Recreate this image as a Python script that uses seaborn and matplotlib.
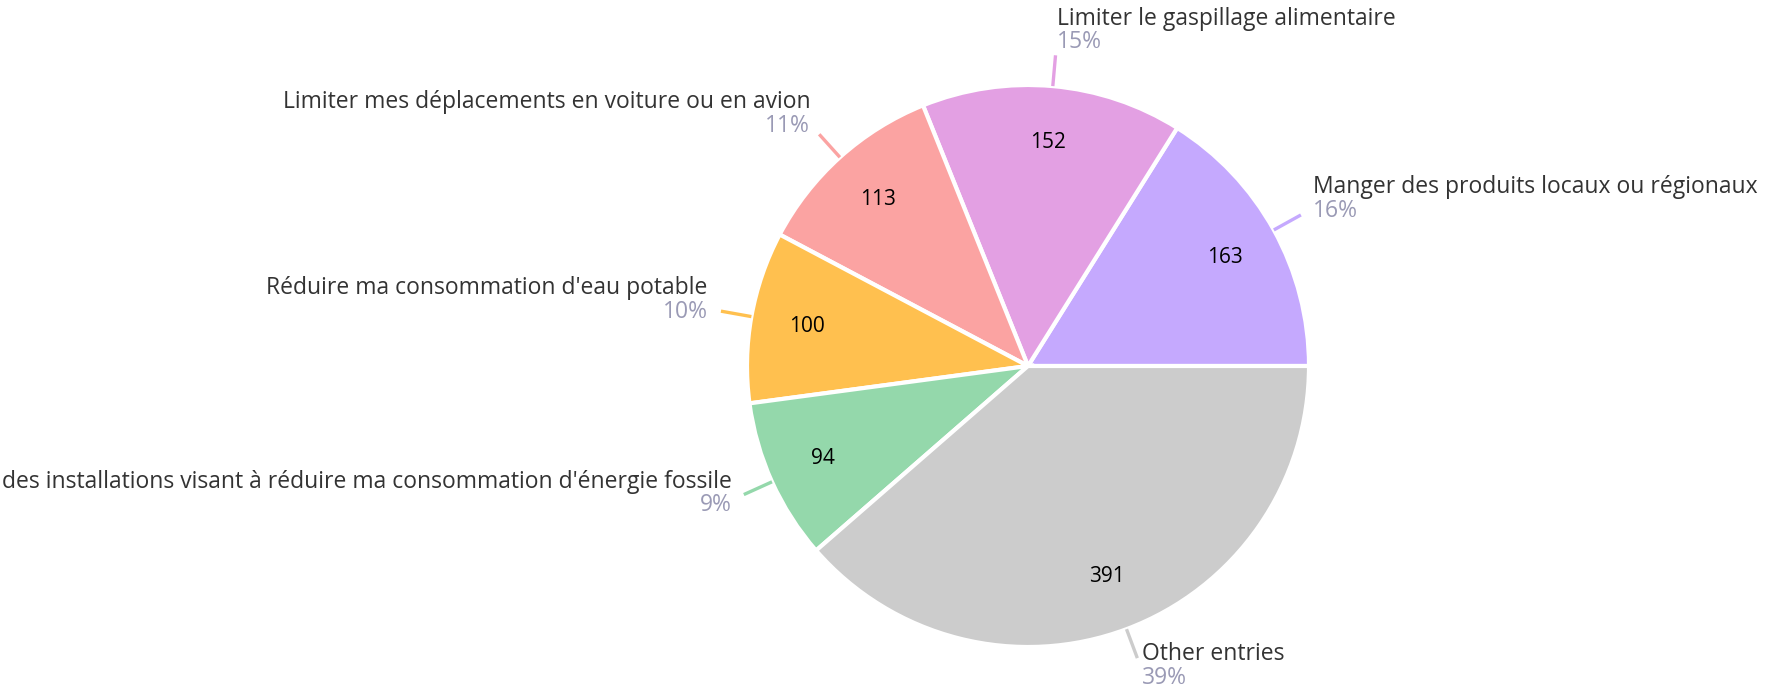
import numpy as np
import seaborn as sns
from matplotlib import pyplot as plt

# data
labels = ["Manger des produits locaux ou régionaux",
          "Limiter le gaspillage alimentaire",
          "Limiter mes déplacements en voiture ou en avion",
          "Réduire ma consommation d'eau potable",
          "des installations visant à réduire ma consommation d'énergie fossile",
          "Other entries"]
counts = [163, 152, 113, 100, 94, 391]
percents = ["16%", "15%", "11%", "10%", "9%", "39%"]
colors = ["#c5a9fe", "#e3a0e3", "#fba3a2", "#ffc04f", "#94d8ab", "#cccccc"]

sns.set_theme(style="white")
plt.rcParams['font.family'] = ['Open Sans', 'DejaVu Sans']

fig = plt.figure(figsize=(17.68, 6.95), dpi=100)
r_px = 281
ax = fig.add_axes([(1028 - r_px) / 1768, (695 - 366 - r_px) / 695, 2 * r_px / 1768, 2 * r_px / 695])

wedges, _ = ax.pie(counts, colors=colors, startangle=0, counterclock=True, radius=1,
                   wedgeprops=dict(edgecolor="white", linewidth=3))
ax.set_xlim(-1, 1)
ax.set_ylim(-1, 1)
ax.axis("off")

px = 1 / 249.0  # one px of the shrunk reference in data units
for w, lab, n, pct in zip(wedges, labels, counts, percents):
    ang = np.deg2rad((w.theta1 + w.theta2) / 2)
    c, s = np.cos(ang), np.sin(ang)
    # count inside the slice
    ax.text(0.8 * c, 0.8 * s, str(n), ha="center", va="center", fontsize=15, color="black")
    # leader line
    ax.plot([1.0 * c, 1.11 * c], [1.0 * s, 1.11 * s], color=w.get_facecolor(), lw=2.4,
            solid_capstyle="butt", clip_on=False)
    ex, ey = 1.11 * c, 1.11 * s
    tx = ex + 12 * c * px
    block = ey + (7 + 15 * s) * px
    ha = "left" if c > 0 else "right"
    ax.text(tx, block + 10.5 * px, lab, ha=ha, va="center", fontsize=16.5, color="#333333", clip_on=False)
    ax.text(tx, block - 10.5 * px, pct, ha=ha, va="center", fontsize=16.5, color="#9a9ab5", clip_on=False)

fig.savefig("out.png", dpi=100, facecolor="white")
